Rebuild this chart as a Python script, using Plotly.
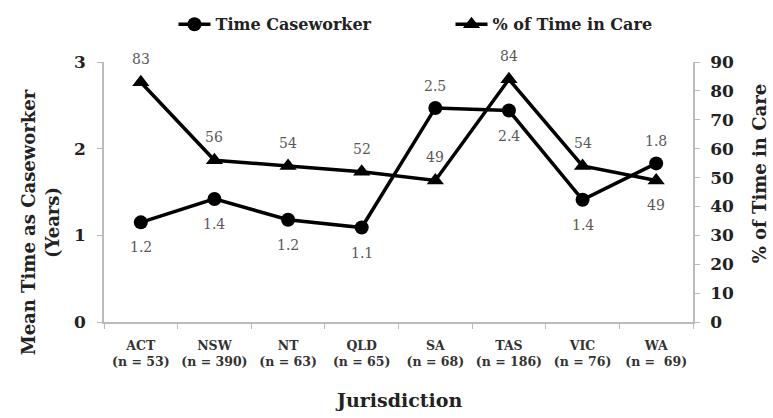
import plotly.graph_objects as go

categories = ["ACT", "NSW", "NT", "QLD", "SA", "TAS", "VIC", "WA"]
sample_n = [53, 390, 63, 65, 68, 186, 76, 69]
time_caseworker = [1.15, 1.42, 1.18, 1.09, 2.47, 2.44, 1.41, 1.83]
time_labels = ["1.2", "1.4", "1.2", "1.1", "2.5", "2.4", "1.4", "1.8"]
pct_time_care = [83, 56, 54, 52, 49, 84, 54, 49]
care_labels = ["83", "56", "54", "52", "49", "84", "54", "49"]

tick_text = [f"{c}<br>(n = {n})" if n != 69 else f"{c}<br>(n =  {n})" for c, n in zip(categories, sample_n)]

FONT = "DejaVu Serif"
LBL = dict(family=FONT, size=14, color="#595959")

# label placement: +1 above, -1 below
time_side = [-1, -1, -1, -1, 1, -1, -1, 1]
care_side = [1, 1, 1, 1, 1, 1, 1, -1]

fig = go.Figure()
fig.add_trace(go.Scatter(
    x=categories, y=time_caseworker, name="Time Caseworker",
    mode="lines+markers", cliponaxis=False,
    line=dict(color="black", width=3.5),
    marker=dict(symbol="circle", size=14, color="black"),
    yaxis="y",
))
fig.add_trace(go.Scatter(
    x=categories, y=pct_time_care, name="% of Time in Care",
    mode="lines+markers", cliponaxis=False,
    line=dict(color="black", width=3.5),
    marker=dict(symbol="triangle-up", size=15, color="black"),
    yaxis="y2",
))

annotations = []
for c, v, t, s in zip(categories, time_caseworker, time_labels, time_side):
    annotations.append(dict(x=c, y=v, xref="x", yref="y", text=t, showarrow=False,
                            xanchor="center", yanchor="middle", yshift=22 if s > 0 else -25,
                            font=LBL))
for c, v, t, s in zip(categories, pct_time_care, care_labels, care_side):
    annotations.append(dict(x=c, y=v, xref="x", yref="y2", text=t, showarrow=False,
                            xanchor="center", yanchor="middle", yshift=23 if s > 0 else -25,
                            font=LBL))

annotations += [
    dict(text="Jurisdiction", xref="paper", yref="paper", x=0.5, y=-0.3, yanchor="middle",
         xanchor="center", showarrow=False,
         font=dict(family=FONT, size=19, color="#222222", weight="bold")),
    dict(text="Mean Time as Caseworker<br>(Years)", xref="paper", yref="paper",
         x=-0.108, y=0.385, xanchor="center", yanchor="middle", textangle=-90, showarrow=False,
         font=dict(family=FONT, size=18, color="#222222", weight="bold")),
    dict(text="% of Time in Care", xref="paper", yref="paper",
         x=1.113, y=0.57, xanchor="center", yanchor="middle", textangle=-90, showarrow=False,
         font=dict(family=FONT, size=18, color="#222222", weight="bold")),
]

fig.update_layout(
    width=773, height=418,
    margin=dict(l=104, r=80, t=62, b=96, autoexpand=False),
    paper_bgcolor="white", plot_bgcolor="white",
    font=dict(family=FONT, color="#222222"),
    showlegend=True,
    legend=dict(orientation="h", x=0.118, xanchor="left", y=1.145, yanchor="middle",
                font=dict(family=FONT, size=16, color="#222222", weight="bold"),
                itemwidth=32, entrywidth=230, entrywidthmode="pixels",
                bgcolor="rgba(0,0,0,0)"),
    xaxis=dict(
        type="category", range=[-0.5, 7.5], automargin=False, tickangle=0,
        tickmode="array", tickvals=categories, ticktext=tick_text,
        tickfont=dict(family=FONT, size=12.5, color="#333333", weight="bold"),
        showline=True, linecolor="#bbbbbb", linewidth=1.5,
        ticks="outside", tickson="boundaries", ticklen=5, tickcolor="#bbbbbb",
        ticklabelstandoff=11,
        showgrid=False, zeroline=False,
    ),
    yaxis=dict(
        range=[0, 3], tickvals=[0, 1, 2, 3], ticktext=["0", "1", "2", "3"], automargin=False,
        tickfont=dict(family=FONT, size=17, color="#222222", weight="bold"),
        showline=True, linecolor="#bbbbbb", linewidth=1.5,
        ticks="outside", ticklen=5, tickcolor="#bbbbbb",
        ticklabelstandoff=8,
        showgrid=False, zeroline=False,
    ),
    yaxis2=dict(
        range=[0, 90], tickvals=list(range(0, 91, 10)), automargin=False,
        overlaying="y", side="right",
        tickfont=dict(family=FONT, size=17, color="#222222", weight="bold"),
        showline=True, linecolor="#bbbbbb", linewidth=1.5,
        ticks="outside", ticklen=5, tickcolor="#bbbbbb",
        ticklabelstandoff=7,
        showgrid=False, zeroline=False,
    ),
    annotations=annotations,
)

fig.write_html("out.html", config={"displayModeBar": False},
               post_script="document.body.style.margin='0';document.body.style.overflow='hidden';")
